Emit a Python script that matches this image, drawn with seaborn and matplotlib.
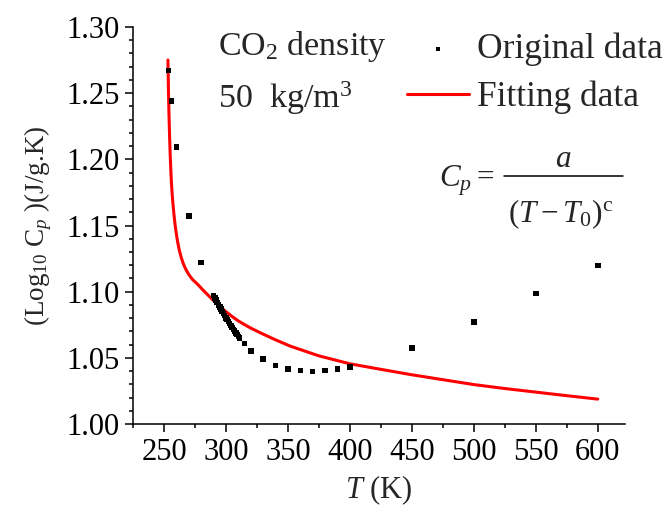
import numpy as np
import pandas as pd
import seaborn as sns
import matplotlib.pyplot as plt
from matplotlib.lines import Line2D
from matplotlib.ticker import MultipleLocator, FormatStrFormatter

# original data (T in K, log10 Cp)
t_orig = [253.5, 256, 260, 270, 280,
          290, 291, 292, 293, 294, 295, 296, 297, 298, 299, 300,
          301, 302, 303, 304, 305, 306, 307, 308, 309, 310, 311,
          315, 320, 330, 340, 350, 360, 370, 380, 390, 400,
          450, 500, 550, 600]
cp_orig = [1.267, 1.244, 1.2095, 1.157, 1.122,
           1.097, 1.0952, 1.0935, 1.0918, 1.0901, 1.0884, 1.0867, 1.0851, 1.0835, 1.0819, 1.0803,
           1.0788, 1.0773, 1.0758, 1.0743, 1.0729, 1.0715, 1.0701, 1.0688, 1.0675, 1.0662, 1.0649,
           1.0609, 1.0553, 1.049, 1.0443, 1.0415, 1.0403, 1.0398, 1.0403, 1.0415, 1.043,
           1.0574, 1.077, 1.0987, 1.1199]

# fitting curve
t_fit = [253.2, 253.6, 254.0, 254.5, 255.0, 255.5, 256.0, 256.5, 257.0, 257.5,
         258.0, 258.5, 259.0, 260.0, 261.0, 262.0, 263.0, 264.0, 265.0, 266.0,
         268.0, 270.0, 273.0, 277.0, 281.0, 285.0, 289.0, 293.0, 297.0, 300.0,
         305.0, 310.0, 315.0, 320.0, 328.0, 340.0, 352.0, 375.0, 400.0, 425.0,
         450.0, 481.0, 500.0, 525.0, 550.0, 575.0, 600.0]
cp_fit = [1.275, 1.252, 1.235, 1.218, 1.204, 1.192, 1.1825, 1.175, 1.169, 1.1637,
          1.1588, 1.1543, 1.1502, 1.1435, 1.1378, 1.1330, 1.1290, 1.1256, 1.1227, 1.1202,
          1.1162, 1.1130, 1.1092, 1.1057, 1.1017, 1.0979, 1.0942, 1.0906, 1.0872, 1.0849,
          1.0812, 1.0779, 1.0751, 1.0725, 1.0688, 1.0636, 1.0588, 1.0515, 1.0455, 1.0413,
          1.0372, 1.0326, 1.0298, 1.0268, 1.0241, 1.0214, 1.0188]

orig = pd.DataFrame({"T": t_orig, "Cp": cp_orig})
fit = pd.DataFrame({"T": t_fit, "Cp": cp_fit})

sns.set_style("ticks")
plt.rcParams['font.family'] = ['Liberation Serif', 'DejaVu Serif']
plt.rcParams['mathtext.fontset'] = 'custom'
plt.rcParams['mathtext.rm'] = 'Liberation Serif'
plt.rcParams['mathtext.it'] = 'Liberation Serif:italic'

W, H = 667, 509
fig = plt.figure(figsize=(6.67, 5.09), dpi=100)
ax = fig.add_axes([133 / W, 1 - 424 / H, 492 / W, 397 / H])

sns.scatterplot(data=orig, x="T", y="Cp", ax=ax, marker="s", s=16, color="black",
                edgecolor="none", label="Original data", zorder=3)
sns.lineplot(data=fit, x="T", y="Cp", ax=ax, color="red", linewidth=2.2,
             sort=False, estimator=None, label="Fitting data", zorder=2)

ax.set_xlim(225, 622)
ax.set_ylim(1.00, 1.30)
ax.set_xticks(np.arange(250, 601, 50))
ax.xaxis.set_minor_locator(MultipleLocator(25))
ax.yaxis.set_major_locator(MultipleLocator(0.05))
ax.yaxis.set_minor_locator(MultipleLocator(0.01))
ax.yaxis.set_major_formatter(FormatStrFormatter('%.2f'))
ax.tick_params(which='major', length=6, width=1.1, labelsize=22, direction='out', colors='black')
ax.tick_params(which='minor', length=3, width=1.1, direction='out', colors='black')
ax.tick_params(axis='x', pad=4)
sns.despine(ax=ax)
for sp in ax.spines.values():
    sp.set_linewidth(1.1)
    sp.set_color('black')

ax.set_xlabel("$T$ (K)", fontsize=22, labelpad=5)
ax.set_ylabel("(Log$_{10}$ C$_{p}$ )(J/g.K)", fontsize=19.5, labelpad=9)

ax.legend(loc='upper left', bbox_to_anchor=(0.557, 0.985), frameon=False,
          fontsize=25.5, handlelength=1.75, handletextpad=0.23, labelspacing=0.4,
          borderpad=0, borderaxespad=0, markerscale=0.7)

fig.text(218 / W, 1 - 46 / H, "CO$_2$ density", fontsize=24.5, va='center', ha='left')
fig.text(218 / W, 1 - 98 / H, "50  kg/m$^3$", fontsize=24.5, va='center', ha='left')

# formula  C_p = a / (T - T0)^c
fig.text(439 / W, 1 - 187 / H, "$C_p=$", fontsize=22.5, va='baseline', ha='left')
fig.text(563 / W, 1 - 167 / H, "$a$", fontsize=22.5, va='baseline', ha='center')
fig.text(561 / W, 1 - 222 / H, r"$(T-T_0)^{\mathrm{c}}$", fontsize=22.5,
         va='baseline', ha='center')
fig.add_artist(Line2D([504 / W, 623 / W], [1 - 176 / H, 1 - 176 / H],
                      transform=fig.transFigure, color='black', linewidth=1.1))

fig.savefig("out.png", dpi=100)
